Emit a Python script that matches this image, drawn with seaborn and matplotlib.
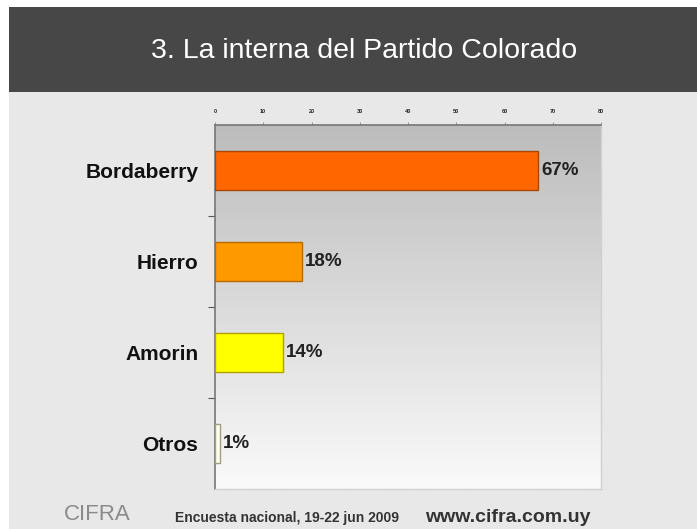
import numpy as np
import pandas as pd
import seaborn as sns
import matplotlib.pyplot as plt

candidatos = ["Bordaberry", "Hierro", "Amorin", "Otros"]
porcentajes = [67, 18, 14, 1]
colores = ["#ff6600", "#ff9900", "#ffff00", "#fffff0"]
bordes = ["#a84800", "#b86a00", "#b0a000", "#a0a080"]
ticks_x = [0, 10, 20, 30, 40, 50, 60, 70, 80]

sns.set_theme(style="white")
plt.rcParams["font.family"] = ["Liberation Sans", "DejaVu Sans"]

df = pd.DataFrame({"candidato": candidatos, "pct": porcentajes})

fig = plt.figure(figsize=(6.97, 5.29), dpi=100)
fig.patch.set_facecolor("white")

# fondo gris de la diapositiva y banda del título
fig.patches.append(plt.Rectangle((9 / 697, 0), 1, 1 - 7 / 529, transform=fig.transFigure,
                                 facecolor="#e8e8e8", edgecolor="none", zorder=-5))
fig.patches.append(plt.Rectangle((9 / 697, 1 - 92 / 529), 1, 85 / 529, transform=fig.transFigure,
                                 facecolor="#474747", edgecolor="none", zorder=-4))
fig.text(0.523, 1 - 51 / 529, "3. La interna del Partido Colorado", color="white",
         fontsize=20.5, ha="center", va="center")

ax = fig.add_axes([215 / 697, 1 - 489 / 529, 386 / 697, 364 / 529])

sns.barplot(data=df, y="candidato", x="pct", hue="candidato", palette=colores,
            saturation=1, orient="h", width=0.42, legend=False, ax=ax, zorder=3)
for patch, ec in zip(ax.patches, bordes):
    patch.set_edgecolor(ec)
    patch.set_linewidth(1.0)

# degradado gris -> blanco
grad = np.linspace(0, 1, 256).reshape(-1, 1)
ax.imshow(grad, cmap=sns.blend_palette(["#bcbcbc", "#fafafa"], as_cmap=True),
          extent=[0, 80, 3.5, -0.5], aspect="auto", zorder=0)
ax.set_xlim(0, 80)
ax.set_ylim(3.5, -0.5)

for i, v in enumerate(porcentajes):
    ax.text(v + 0.6, i, f"{v}%", va="center", ha="left", fontsize=13.5,
            fontweight="bold", color="#222222", zorder=4)

ax.xaxis.tick_top()
ax.set_xticks(ticks_x)
ax.set_xticklabels([str(t) for t in ticks_x], fontsize=4, fontweight="bold")
ax.tick_params(axis="x", length=2, width=0.6, color="#888888", pad=6, top=True)
ax.set_yticks(range(len(candidatos)))
ax.set_yticklabels(candidatos, fontsize=15, fontweight="bold", color="#111111")
ax.set_yticks([0.5, 1.5, 2.5], minor=True)
ax.tick_params(axis="y", which="major", length=0, pad=12)
ax.tick_params(axis="y", which="minor", length=5, width=0.8, color="#555555", left=True)
ax.set_xlabel("")
ax.set_ylabel("")
for s in ["top", "left"]:
    ax.spines[s].set_color("#777777")
    ax.spines[s].set_linewidth(1.2)
for s in ["right", "bottom"]:
    ax.spines[s].set_color("#d0d0d0")
    ax.spines[s].set_linewidth(1.0)

# pie de página
fig.text(64 / 697, 1 - 515 / 529, "CIFRA", fontsize=16, color="#8a8a8a",
         ha="left", va="center", fontweight="light")
fig.text(175 / 697, 1 - 518 / 529, "Encuesta nacional, 19-22 jun 2009", fontsize=10,
         fontweight="bold", color="#333333", ha="left", va="center")
fig.text(425 / 697, 1 - 517 / 529, "www.cifra.com.uy", fontsize=14,
         fontweight="bold", color="#333333", ha="left", va="center")

plt.savefig("out.png", dpi=100)
